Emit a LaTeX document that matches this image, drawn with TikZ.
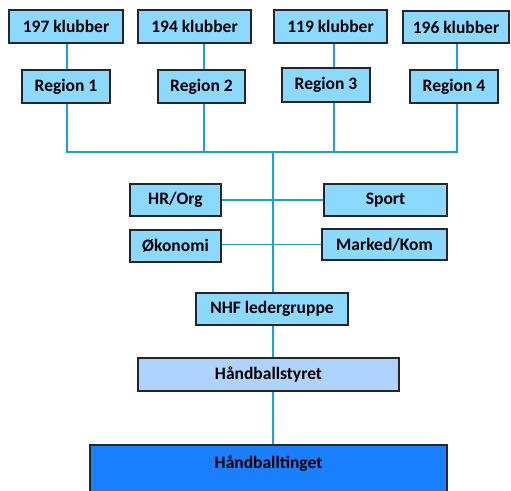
\documentclass[tikz,border=0pt]{standalone}
\usepackage{fontspec}
\setmainfont{Carlito}
\definecolor{boxblue}{HTML}{8CD9FF}
\definecolor{linkblue}{HTML}{1AA0E0}
\definecolor{styreblue}{HTML}{AFD3FF}
\definecolor{tingblue}{HTML}{1A7FFF}
\tikzset{
    org/.style={draw=black!85,line width=1.6pt,fill=boxblue,inner sep=0pt,
        font=\fontsize{17.5}{20}\selectfont\bfseries},
    link/.style={draw=linkblue,line width=1.5pt},
}

\begin{document}
\begin{tikzpicture}[x=1pt,y=-1pt]
    \clip (0,0) rectangle (511,490);
    % klubber
    \node[org,minimum width=114,minimum height=33] (k1) at (66,26.5) {197 klubber};
    \node[org,minimum width=113,minimum height=33] (k2) at (194.5,26.5) {194 klubber};
    \node[org,minimum width=113,minimum height=33] (k3) at (330.5,26.5) {119 klubber};
    \node[org,minimum width=106,minimum height=32] (k4) at (456,27) {196 klubber};
    % regioner
    \node[org,minimum width=88,minimum height=33] (r1) at (66,86.5) {Region 1};
    \node[org,minimum width=87,minimum height=33] (r2) at (201.5,86.5) {Region 2};
    \node[org,minimum width=88,minimum height=34] (r3) at (326,85) {Region 3};
    \node[org,minimum width=88,minimum height=33] (r4) at (454,86.5) {Region 4};
    % administrasjon
    \node[org,minimum width=91,minimum height=32] (hr) at (175.5,200) {HR/Org};
    \node[org,minimum width=123,minimum height=32] (sport) at (385.5,200) {Sport};
    \node[org,minimum width=91,minimum height=32] (oko) at (175.5,246) {Økonomi};
    \node[org,minimum width=125,minimum height=31] (marked) at (384.5,244.5) {Marked/Kom};
    \node[org,minimum width=152,minimum height=32] (nhf) at (272,309) {NHF ledergruppe};
    \node[org,fill=styreblue,minimum width=261,minimum height=33] (styret) at (268.5,374.5) {Håndballstyret};
    \node[org,fill=tingblue,minimum width=357,anchor=north,inner ysep=11pt,text depth=40pt] (tinget) at (268.5,444) {Håndballtinget};
    \coordinate (bus) at (273,152);
    % linjer
    \draw[link] ([xshift=1pt]k1.south) -- ([xshift=1pt]k1.south |- r1.north);
    \draw[link] ([xshift=2.5pt]r2.north |- k2.south) -- ([xshift=2.5pt]r2.north);
    \draw[link] ([xshift=8pt]r3.north |- k3.south) -- ([xshift=8pt]r3.north);
    \draw[link] ([xshift=1pt]k4.south) -- ([xshift=1pt]k4.south |- r4.north);
    \draw[link] ([xshift=1pt]r1.south) -- ([xshift=1pt]r1.south |- bus) -- ([xshift=3pt]r4.south |- bus) -- ([xshift=3pt]r4.south);
    \draw[link] ([xshift=2.5pt]r2.south) -- ([xshift=2.5pt]r2.south |- bus);
    \draw[link] ([xshift=8pt]r3.south) -- ([xshift=8pt]r3.south |- bus);
    \draw[link] (bus) -- (bus |- nhf.north);
    \draw[link] (hr.east |- sport.west) -- (sport.west);
    \draw[link] (oko.east |- marked.west) -- (marked.west);
    \draw[link] (bus |- nhf.south) -- (bus |- styret.north);
    \draw[link] (bus |- styret.south) -- (bus |- tinget.north);
\end{tikzpicture}
\end{document}
